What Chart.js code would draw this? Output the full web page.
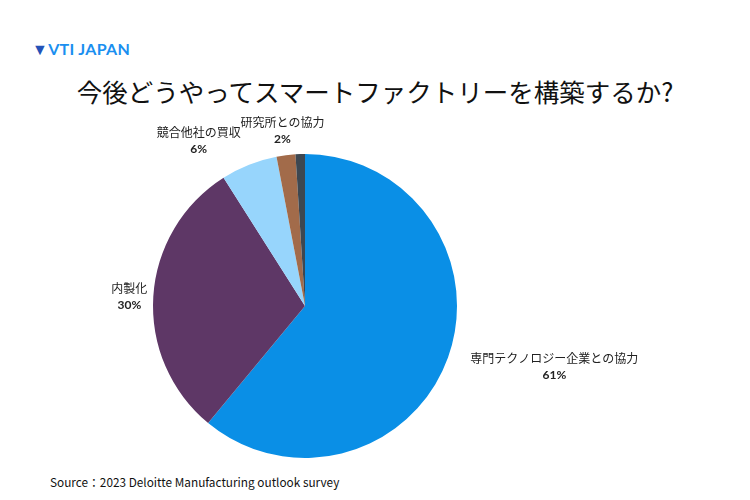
<!DOCTYPE html>
<html><head><meta charset="utf-8">
<script src="https://cdn.jsdelivr.net/npm/chart.js@4"></script>
<style>
body{margin:0;width:750px;height:500px;background:#fff;position:relative;font-family:"Noto Sans CJK JP",Lato,sans-serif;overflow:hidden}
#c{position:absolute;left:0;top:0}
.t{position:absolute;white-space:nowrap}
</style></head><body>
<div class="t" style="left:32px;top:39px;font:bold 16px Lato,sans-serif;color:#1a8ff0;letter-spacing:0.3px"><span style="font-weight:900;color:#2452b8">▼</span>VTI JAPAN</div>
<div class="t" style="left:0;width:750px;top:72px;text-align:center;font-size:25.5px;color:#111">今後どうやってスマートファクトリーを構築するか?</div>
<div class="t" style="left:50px;top:473px;font-size:11.8px;color:#111">Source：2023 Deloitte Manufacturing outlook survey</div>
<canvas id="c" width="750" height="500"></canvas>
<script>
const categories=["専門テクノロジー企業との協力","内製化","競合他社の買収","研究所との協力",""];
const values=[61,30,6,2,1];
const pctLabels=["61%","30%","6%","2%",""];
const colors=["#0a8fe6","#5e3766","#97d5fc","#a26b4a","#3d4751"];
const labelOffsets=[[80,0],[4,2],[-40,2],[0,4],[0,0]];
const labelPlugin={id:'lbl',afterDraw(chart){
 const ctx=chart.ctx;const meta=chart.getDatasetMeta(0);
 meta.data.forEach((arc,i)=>{ if(!categories[i])return;
  const a=(arc.startAngle+arc.endAngle)/2;const r=arc.outerRadius+28;
  const x=arc.x+Math.cos(a)*r+labelOffsets[i][0];const y=arc.y+Math.sin(a)*r+labelOffsets[i][1];
  ctx.save();ctx.textAlign='center';ctx.fillStyle='#222';
  ctx.font='12px "Noto Sans CJK JP"';ctx.fillText(categories[i],x,y-4);
  ctx.font='bold 12px Lato';ctx.fillText(pctLabels[i],x,y+12);ctx.restore();});
}};
new Chart(document.getElementById('c'),{type:'pie',
 data:{labels:categories,datasets:[{data:values,backgroundColor:colors,borderWidth:0}]},
 options:{responsive:false,animation:false,layout:{padding:{left:153,right:293,top:154,bottom:42}},
  plugins:{legend:{display:false},tooltip:{enabled:false}}},
 plugins:[labelPlugin]});
</script></body></html>
